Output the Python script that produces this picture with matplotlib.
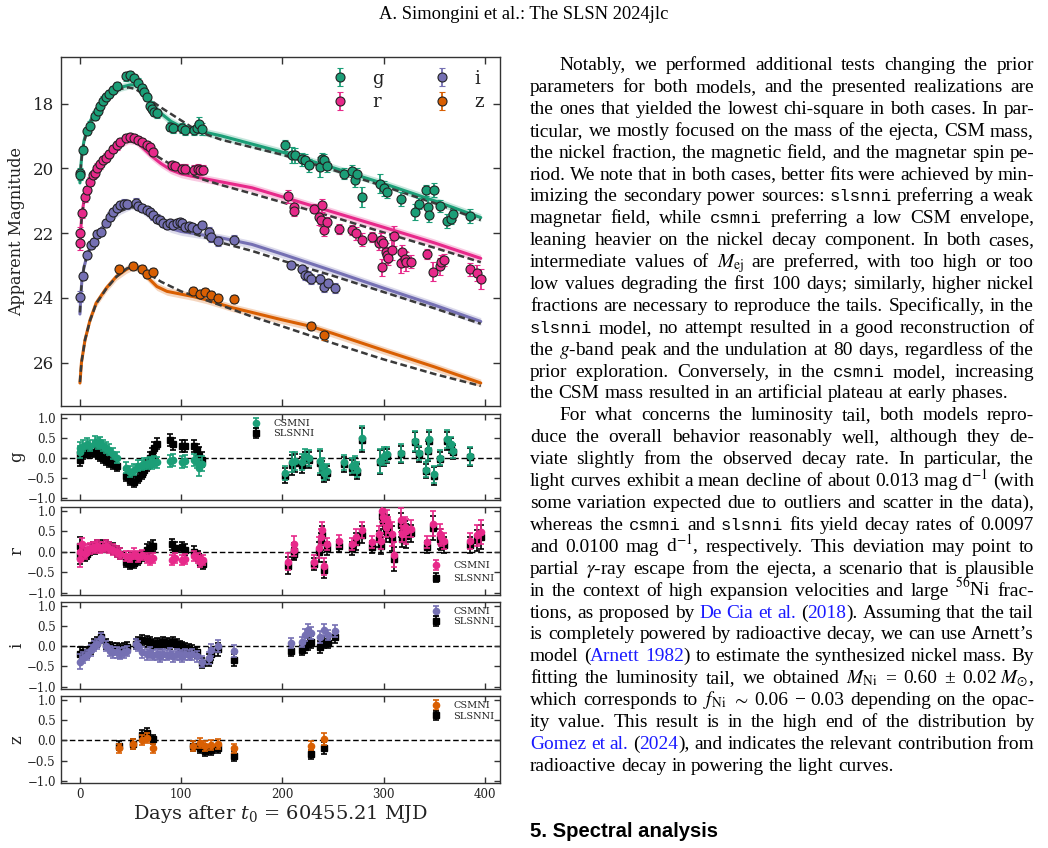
import re
import numpy as np
import matplotlib
matplotlib.use("Agg")
import matplotlib.pyplot as plt

# ---------------- data ----------------
BANDS = ["g", "r", "i", "z"]
COLORS = {"g": "#1b9e77", "r": "#e7298a", "i": "#7570b3", "z": "#d95f02"}

G_DAY = [0, 0, 3.3, 7.2, 9.9, 14.9, 17.6, 19.8,
         23.1, 25.7, 29.0, 33.0, 36.3, 45.5, 49.5, 53.5,
         57.0, 61.0, 63.4, 66.0, 69.3, 71.0, 73.3, 75.9,
         89.1, 92.4, 100.7, 104.0, 112.2, 115.5, 117.9, 120.5,
         203.0, 209.6, 212.9, 219.5, 222.8, 226.1, 237.6, 239.3,
         241.6, 244.2, 260.7, 269.0, 271.3, 273.9, 278.2, 296.0,
         300.3, 303.6, 316.8, 331.0, 335.0, 341.6, 344.0, 344.5,
         349.8, 355.4, 362.4, 366.3, 368.6, 385.4]
G_MAG = [20.14, 20.22, 19.43, 18.85, 18.68, 18.37, 18.22, 18.07,
         17.91, 17.80, 17.70, 17.58, 17.45, 17.16, 17.12, 17.21,
         17.35, 17.53, 17.65, 17.80, 18.06, 18.16, 18.25, 18.30,
         18.71, 18.75, 18.75, 18.81, 18.83, 18.75, 18.62, 18.78,
         19.29, 19.60, 19.60, 19.72, 19.75, 19.91, 19.96, 19.71,
         19.75, 19.94, 20.16, 20.09, 20.37, 20.16, 20.88, 20.47,
         20.62, 20.73, 20.94, 21.35, 21.09, 20.68, 21.19, 21.45,
         20.68, 21.16, 21.63, 21.55, 21.42, 21.48]
G_ERR = [0.15, 0.15, 0.13, 0.13, 0.13, 0.13, 0.13, 0.13,
         0.13, 0.13, 0.13, 0.13, 0.13, 0.13, 0.13, 0.13,
         0.13, 0.13, 0.13, 0.13, 0.13, 0.13, 0.13, 0.13,
         0.15, 0.15, 0.15, 0.15, 0.15, 0.15, 0.22, 0.18,
         0.18, 0.25, 0.22, 0.20, 0.18, 0.20, 0.30, 0.18,
         0.18, 0.18, 0.18, 0.18, 0.20, 0.18, 0.30, 0.30,
         0.22, 0.18, 0.22, 0.25, 0.18, 0.18, 0.25, 0.22,
         0.22, 0.18, 0.22, 0.18, 0.18, 0.22]
G_RES_CSM = [0.25, 0.15, 0.30, 0.35, 0.30, 0.40, 0.35, 0.38,
             0.30, 0.25, 0.20, 0.10, 0.00, -0.25, -0.35, -0.30,
             -0.20, -0.18, -0.15, -0.15, -0.12, -0.15, -0.10, -0.12,
             -0.08, -0.05, -0.12, -0.08, -0.05, -0.10, -0.25, -0.15,
             -0.38, -0.12, -0.08, -0.12, 0.04, 0.00, -0.08, -0.20,
             -0.38, -0.33, -0.12, -0.20, -0.17, -0.30, 0.50, -0.08,
             0.04, 0.08, 0.12, 0.42, 0.12, -0.30, 0.20, 0.46,
             -0.42, 0.00, 0.46, 0.33, 0.17, 0.04]
G_RES_SLS = [0.10, -0.05, 0.10, 0.15, 0.12, 0.15, 0.10, 0.05,
             0.00, -0.05, -0.10, -0.15, -0.20, -0.45, -0.55, -0.60,
             -0.50, -0.40, -0.30, -0.20, 0.00, 0.10, 0.25, 0.35,
             0.45, 0.35, 0.30, 0.30, 0.30, 0.20, 0.05, -0.05,
             -0.45, -0.18, -0.14, -0.18, -0.03, -0.06, -0.14, -0.26,
             -0.44, -0.39, -0.17, -0.25, -0.22, -0.35, 0.45, -0.12,
             0.00, 0.04, 0.08, 0.38, 0.08, -0.34, 0.16, 0.42,
             -0.46, -0.04, 0.42, 0.30, 0.14, 0.01]

R_DAY = [0, 0, 1.6, 4.9, 7.2, 9.9, 13.3, 14.9,
         17.3, 19.8, 23.1, 25.7, 29.0, 33.0, 36.3, 39.6,
         45.5, 49.5, 53.5, 57.0, 61.0, 66.0, 69.3, 72.6,
         90.8, 94.0, 100.7, 104.0, 112.2, 116.2, 118.8, 121.5,
         206.0, 211.2, 211.8, 231.0, 236.0, 238.3, 239.3, 241.6,
         244.2, 255.8, 269.0, 272.3, 278.9, 288.8, 295.4, 297.0,
         298.7, 299.6, 302.0, 303.6, 304.2, 308.0, 310.2, 316.8,
         318.4, 320.8, 321.8, 326.7, 343.2, 348.8, 355.4, 356.4,
         359.7, 385.4, 392.7, 396.0]
R_MAG = [22.01, 22.32, 21.39, 20.90, 20.67, 20.41, 20.21, 20.14,
         19.98, 19.88, 19.75, 19.67, 19.55, 19.40, 19.29, 19.19,
         19.07, 19.04, 19.06, 19.12, 19.19, 19.29, 19.35, 19.50,
         19.91, 19.94, 20.01, 20.01, 20.04, 20.01, 20.06, 20.04,
         20.86, 21.19, 21.31, 21.24, 21.49, 21.58, 21.14, 21.90,
         21.65, 21.88, 21.90, 22.00, 22.21, 22.11, 22.32, 22.21,
         23.06, 22.32, 22.57, 22.68, 22.78, 22.52, 22.09, 22.93,
         22.57, 22.81, 22.88, 22.88, 22.65, 23.19, 23.03, 22.88,
         22.83, 23.11, 23.24, 23.42]
R_ERR = [0.20, 0.20, 0.13, 0.13, 0.13, 0.13, 0.13, 0.13,
         0.13, 0.13, 0.13, 0.13, 0.13, 0.13, 0.13, 0.13,
         0.13, 0.13, 0.13, 0.13, 0.13, 0.13, 0.13, 0.13,
         0.13, 0.13, 0.13, 0.13, 0.13, 0.13, 0.13, 0.13,
         0.20, 0.20, 0.15, 0.15, 0.25, 0.20, 0.20, 0.20,
         0.15, 0.15, 0.15, 0.20, 0.20, 0.15, 0.20, 0.20,
         0.25, 0.20, 0.25, 0.25, 0.20, 0.30, 0.30, 0.30,
         0.20, 0.25, 0.30, 0.20, 0.15, 0.30, 0.25, 0.20,
         0.20, 0.20, 0.25, 0.30]
R_RES_CSM = [0.00, -0.18, 0.20, -0.05, 0.05, 0.08, 0.12, 0.10,
             0.15, 0.10, 0.12, 0.15, 0.10, 0.05, 0.00, -0.05,
             -0.10, -0.12, -0.05, -0.12, -0.08, -0.15, -0.20, -0.15,
             -0.20, -0.15, -0.20, -0.18, -0.10, -0.15, -0.25, -0.20,
             -0.24, 0.19, 0.05, -0.24, 0.10, 0.36, 0.53, -0.36,
             0.19, 0.27, 0.19, 0.36, 0.53, 0.23, 0.44, 0.27,
             0.99, 0.86, 0.61, 0.78, 0.65, 0.44, -0.07, 0.78,
             0.44, 0.61, 0.50, 0.57, 0.23, 0.69, 0.44, 0.35,
             0.27, 0.27, 0.40, 0.48]
R_RES_SLS = [0.15, -0.10, 0.05, -0.10, -0.05, 0.05, 0.10, 0.08,
             0.15, 0.12, 0.15, 0.15, 0.12, 0.08, 0.00, -0.05,
             -0.25, -0.30, -0.28, -0.20, -0.10, 0.05, 0.10, 0.15,
             0.18, 0.10, 0.12, 0.05, 0.00, -0.10, -0.25, -0.30,
             -0.34, 0.02, -0.05, -0.30, 0.00, 0.25, 0.42, -0.45,
             0.08, 0.15, 0.08, 0.25, 0.42, 0.12, 0.32, 0.15,
             0.88, 0.75, 0.50, 0.66, 0.54, 0.32, -0.18, 0.66,
             0.32, 0.50, 0.38, 0.45, 0.12, 0.58, 0.32, 0.24,
             0.16, 0.16, 0.28, 0.36]

I_DAY = [0, 3.3, 7.2, 10.6, 13.9, 16.5, 20.8, 25.7,
         29.7, 33.0, 36.3, 39.6, 43.6, 46.2, 55.4, 57.8,
         61.0, 66.0, 69.3, 72.6, 75.9, 79.2, 82.5, 85.8,
         89.1, 92.4, 95.7, 99.0, 100.7, 104.0, 107.3, 110.6,
         115.5, 120.5, 128.0, 129.3, 136.0, 152.0,
         209.0, 219.5, 222.8, 225.5, 227.9, 237.6, 241.0, 244.8,
         252.4]
I_MAG = [23.96, 23.32, 22.68, 22.37, 22.27, 22.03, 21.96, 21.68,
         21.49, 21.34, 21.23, 21.13, 21.09, 21.11, 21.06, 21.16,
         21.22, 21.29, 21.34, 21.45, 21.55, 21.60, 21.68, 21.75,
         21.70, 21.75, 21.70, 21.65, 21.70, 21.81, 21.79, 21.81,
         21.86, 21.75, 21.96, 22.11, 22.24, 22.20,
         23.00, 23.12, 23.29, 23.32, 23.42, 23.42, 23.67, 23.53,
         23.70]
I_ERR = [0.18, 0.13, 0.13, 0.13, 0.13, 0.13, 0.13, 0.13,
         0.13, 0.13, 0.13, 0.13, 0.13, 0.13, 0.13, 0.13,
         0.13, 0.13, 0.13, 0.13, 0.13, 0.13, 0.13, 0.13,
         0.13, 0.13, 0.13, 0.13, 0.13, 0.13, 0.13, 0.13,
         0.13, 0.13, 0.15, 0.15, 0.15, 0.15,
         0.12, 0.12, 0.15, 0.15, 0.15, 0.15, 0.15, 0.12,
         0.15]
I_RES_CSM = [-0.38, -0.28, -0.22, -0.10, 0.00, 0.05, 0.20, 0.00,
             -0.12, -0.15, -0.15, -0.18, -0.15, -0.12, 0.05, 0.00,
             -0.15, -0.20, -0.15, -0.22, -0.20, -0.25, -0.20, -0.22,
             -0.18, -0.25, -0.20, -0.22, -0.25, -0.20, -0.22, -0.20,
             -0.25, -0.38, -0.30, -0.10, 0.00, -0.12,
             0.08, 0.10, 0.28, 0.40, 0.32, 0.23, 0.40, 0.28,
             0.38]
I_RES_SLS = [-0.20, -0.15, -0.15, -0.05, 0.05, 0.10, 0.22, 0.05,
             -0.02, -0.05, -0.05, -0.08, -0.05, -0.02, 0.05, 0.10,
             0.15, 0.12, 0.10, 0.05, 0.08, 0.05, 0.10, 0.08,
             0.05, 0.10, 0.05, 0.00, -0.02, -0.05, -0.08, -0.10,
             -0.15, -0.42, -0.35, -0.20, -0.08, -0.33,
             -0.12, -0.10, -0.02, 0.05, 0.10, -0.02, 0.10, 0.07,
             0.23]

Z_DAY = [38.8, 52.5, 61.0, 66.0, 72.6, 111.5, 118.2, 123.8, 129.4, 136.3, 151.9, 227.9, 241.0]
Z_MAG = [23.12, 23.02, 23.12, 23.27, 23.21, 23.79, 23.89, 23.83, 23.91, 24.01, 24.04, 24.88, 25.14]
Z_ERR = [0.12, 0.12, 0.12, 0.12, 0.12, 0.12, 0.12, 0.12, 0.12, 0.12, 0.12, 0.12, 0.15]
Z_RES_CSM = [-0.20, -0.10, 0.00, 0.05, -0.20, -0.14, -0.07, -0.15, -0.11, -0.10, -0.20, -0.13, 0.03]
Z_RES_SLS = [-0.13, -0.10, 0.13, 0.19, 0.02, -0.15, -0.20, -0.26, -0.24, -0.20, -0.39, -0.35, -0.20]

# model curves (CSMNI solid, SLSNNI dashed)
G_CSM_DAY = [0, 1, 2, 4, 7, 10, 15, 20, 25, 30, 40, 50, 56, 60, 65, 70, 75, 80, 90, 100,
             110, 120, 140, 170, 200, 250, 300, 350, 396]
G_CSM_MAG = [20.45, 19.9, 19.55, 19.15, 18.8, 18.55, 18.25, 18.0, 17.85, 17.7, 17.5, 17.42,
             17.43, 17.5, 17.7, 17.95, 18.15, 18.3, 18.55, 18.72, 18.8, 18.86, 19.0, 19.25,
             19.5, 19.98, 20.47, 21.0, 21.52]
G_SLS_DAY = [0, 1, 2, 4, 7, 10, 15, 20, 30, 40, 48, 55, 62, 70, 80, 90, 100, 110, 120, 140,
             170, 200, 250, 300, 350, 396]
G_SLS_MAG = [20.4, 19.9, 19.6, 19.2, 18.85, 18.6, 18.3, 18.05, 17.72, 17.55, 17.5, 17.55,
             17.7, 17.9, 18.12, 18.32, 18.52, 18.72, 18.9, 19.12, 19.35, 19.58, 20.05, 20.55,
             21.07, 21.6]
R_CSM_DAY = [0, 1, 2, 4, 7, 10, 15, 20, 25, 30, 40, 48, 55, 60, 65, 70, 80, 90, 100, 110,
             120, 140, 170, 200, 250, 300, 350, 396]
R_CSM_MAG = [22.4, 21.8, 21.4, 21.0, 20.65, 20.4, 20.1, 19.85, 19.65, 19.5, 19.25, 19.12,
             19.15, 19.3, 19.45, 19.6, 19.85, 20.05, 20.17, 20.24, 20.3, 20.42, 20.6, 20.88,
             21.35, 21.82, 22.3, 22.78]
R_SLS_DAY = [0, 1, 2, 4, 7, 10, 15, 20, 30, 40, 48, 55, 62, 70, 80, 90, 100, 110, 120, 140,
             170, 200, 250, 300, 350, 396]
R_SLS_MAG = [22.35, 21.8, 21.45, 21.05, 20.7, 20.45, 20.12, 19.88, 19.5, 19.25, 19.15, 19.2,
             19.32, 19.5, 19.7, 19.88, 20.05, 20.2, 20.33, 20.52, 20.78, 21.05, 21.5, 21.98,
             22.45, 22.9]
I_CSM_DAY = [0, 1, 2, 4, 7, 10, 15, 20, 30, 40, 50, 55, 60, 70, 80, 90, 100, 110, 120, 140,
             170, 200, 250, 300, 350, 396]
I_CSM_MAG = [24.5, 23.85, 23.45, 23.05, 22.7, 22.45, 22.15, 21.9, 21.55, 21.3, 21.15, 21.16,
             21.25, 21.48, 21.7, 21.86, 21.95, 22.0, 22.05, 22.15, 22.35, 22.65, 23.17, 23.7,
             24.22, 24.73]
I_SLS_DAY = [0, 1, 2, 4, 7, 10, 15, 20, 30, 40, 50, 58, 65, 75, 90, 100, 120, 140, 170, 200,
             250, 300, 350, 396]
I_SLS_MAG = [24.45, 23.85, 23.45, 23.05, 22.7, 22.45, 22.15, 21.9, 21.55, 21.32, 21.2, 21.22,
             21.32, 21.5, 21.75, 21.88, 22.1, 22.3, 22.55, 22.85, 23.32, 23.82, 24.32, 24.8]
Z_CSM_DAY = [0, 1.5, 5, 10, 16, 26, 36, 46, 53, 59, 66, 76, 86, 99, 112, 125, 150, 170, 200,
             228, 250, 300, 350, 396]
Z_CSM_MAG = [26.63, 26.0, 25.3, 24.68, 24.16, 23.7, 23.34, 23.12, 23.02, 23.09, 23.34, 23.65,
             23.8, 23.88, 23.96, 24.06, 24.3, 24.45, 24.68, 24.88, 25.1, 25.62, 26.13, 26.63]
Z_SLS_DAY = [0, 1.5, 5, 10, 16, 26, 36, 46, 53, 60, 70, 80, 100, 120, 150, 170, 200, 250, 300,
             350, 396]
Z_SLS_MAG = [26.6, 26.0, 25.3, 24.7, 24.18, 23.72, 23.35, 23.1, 23.0, 23.08, 23.3, 23.5, 23.8,
             24.02, 24.35, 24.58, 24.88, 25.4, 25.9, 26.35, 26.72]
BAND_HALF_WIDTH = 0.12

DATA = {
    "g": (G_DAY, G_MAG, G_ERR, G_RES_CSM, G_RES_SLS, G_CSM_DAY, G_CSM_MAG, G_SLS_DAY, G_SLS_MAG),
    "r": (R_DAY, R_MAG, R_ERR, R_RES_CSM, R_RES_SLS, R_CSM_DAY, R_CSM_MAG, R_SLS_DAY, R_SLS_MAG),
    "i": (I_DAY, I_MAG, I_ERR, I_RES_CSM, I_RES_SLS, I_CSM_DAY, I_CSM_MAG, I_SLS_DAY, I_SLS_MAG),
    "z": (Z_DAY, Z_MAG, Z_ERR, Z_RES_CSM, Z_RES_SLS, Z_CSM_DAY, Z_CSM_MAG, Z_SLS_DAY, Z_SLS_MAG),
}

X_TICKS = [0, 100, 200, 300, 400]
MAIN_Y_TICKS = [18, 20, 22, 24, 26]
RES_Y_TICKS = [-1.0, -0.5, 0.0, 0.5, 1.0]
XLABEL = r"Days after $t_0$ = 60455.21 MJD"
YLABEL = "Apparent Magnitude"
HEADER = "A. Simongini et al.: The SLSN 2024jlc"
SECTION = "5. Spectral analysis"

BODY_LINES = [
    ("Notably, we performed additional tests changing the prior", True, True),
    ("parameters for both models, and the presented realizations are", True, False),
    ("the ones that yielded the lowest chi-square in both cases. In par-", True, False),
    ("ticular, we mostly focused on the mass of the ejecta, CSM mass,", True, False),
    ("the nickel fraction, the magnetic field, and the magnetar spin pe-", True, False),
    ("riod. We note that in both cases, better fits were achieved by min-", True, False),
    ("imizing the secondary power sources: {t:slsnni} preferring a weak", True, False),
    ("magnetar field, while {t:csmni} preferring a low CSM envelope,", True, False),
    ("leaning heavier on the nickel decay component. In both cases,", True, False),
    (r"intermediate values of $M_{\mathrm{ej}}$ are preferred, with too high or too", True, False),
    ("low values degrading the first 100 days; similarly, higher nickel", True, False),
    ("fractions are necessary to reproduce the tails. Specifically, in the", True, False),
    ("{t:slsnni} model, no attempt resulted in a good reconstruction of", True, False),
    ("the $g$-band peak and the undulation at 80 days, regardless of the", True, False),
    ("prior exploration. Conversely, in the {t:csmni} model, increasing", True, False),
    ("the CSM mass resulted in an artificial plateau at early phases.", False, False),
    ("For what concerns the luminosity tail, both models repro-", True, True),
    ("duce the overall behavior reasonably well, although they de-", True, False),
    ("viate slightly from the observed decay rate. In particular, the", True, False),
    (r"light curves exhibit a mean decline of about 0.013~mag~d$^{-1}$ (with", True, False),
    ("some variation expected due to outliers and scatter in the data),", True, False),
    ("whereas the {t:csmni} and {t:slsnni} fits yield decay rates of 0.0097", True, False),
    (r"and 0.0100 mag d$^{-1}$, respectively. This deviation may point to", True, False),
    (r"partial $\gamma$-ray escape from the ejecta, a scenario that is plausible", True, False),
    (r"in the context of high expansion velocities and large $^{56}$Ni frac-", True, False),
    ("tions, as proposed by {b:De} {b:Cia} {b:et} {b:al.} ({b:2018}). Assuming that the tail", True, False),
    ("is completely powered by radioactive decay, we can use Arnett\u2019s", True, False),
    ("model ({b:Arnett} {b:1982}) to estimate the synthesized nickel mass. By", True, False),
    (r"fitting the luminosity tail, we obtained $M_{\mathrm{Ni}}$ = 0.60 ± 0.02~$M_{\odot}$,", True, False),
    (r"which corresponds to $f_{\mathrm{Ni}}$ $\sim$ 0.06 − 0.03 depending on the opac-", True, False),
    ("ity value. This result is in the high end of the distribution by", True, False),
    ("{b:Gomez} {b:et} {b:al.} ({b:2024}), and indicates the relevant contribution from", True, False),
    ("radioactive decay in powering the light curves.", False, False),
]

# ---------------- figure ----------------
plt.rcParams["font.family"] = ["DejaVu Serif"]
plt.rcParams["mathtext.fontset"] = "dejavuserif"
W, H = 1048, 848
fig = plt.figure(figsize=(W / 100, H / 100), dpi=100)
fig.patch.set_facecolor("white")


def box(l, t, r, b):
    return [l / W, 1 - b / H, (r - l) / W, (b - t) / H]


AX_L, AX_R = 60.7, 500.0
ax_main = fig.add_axes(box(AX_L, 57.3, AX_R, 406.0))
res_boxes = [(414.0, 500.0), (507.3, 595.0), (602.3, 689.0), (696.0, 783.3)]
res_axes = [fig.add_axes(box(AX_L, t, AX_R, b)) for t, b in res_boxes]

SPINE = "#333333"
TXT = "#222222"

handles = []
for b in BANDS:
    day, mag, err, rc, rs, cd, cm, sd, sm = DATA[b]
    c = COLORS[b]
    cm_a = np.array(cm)
    ax_main.fill_between(cd, cm_a - BAND_HALF_WIDTH, cm_a + BAND_HALF_WIDTH,
                         color=c, alpha=0.25, lw=0, zorder=1)
    ax_main.plot(cd, cm, color=c, lw=2.2, zorder=2, solid_capstyle="round")
    ax_main.plot(sd, sm, color="#3a3a3a", lw=1.8, dashes=(2.7, 1.4), zorder=3)
    eb = ax_main.errorbar(day, mag, yerr=err, fmt="o", ms=6.5, mfc=c, mec="#222222",
                          mew=0.8, ecolor=c, elinewidth=1.3, capsize=2, capthick=1.3,
                          zorder=4, label=b)
    handles.append(eb)

ax_main.set_xlim(-19, 415)
ax_main.set_ylim(27.34, 16.57)
ax_main.set_xticks(X_TICKS)
ax_main.set_yticks(MAIN_Y_TICKS)
ax_main.tick_params(direction="in", top=True, right=True, length=5, width=1,
                    colors=SPINE, labelcolor=TXT, labelsize=12, pad=5,
                    labelbottom=False)
ax_main.set_ylabel(YLABEL, color=TXT, va="center", fontsize=11.5)
ax_main.yaxis.set_label_coords((17 - AX_L) / (AX_R - AX_L), 0.5)

# main legend
leg = ax_main.legend(handles=handles, labels=BANDS, ncol=2, frameon=False, fontsize=13,
                     handlelength=1.0, handletextpad=1.3, columnspacing=2.7,
                     labelspacing=0.33, borderpad=0, borderaxespad=0, loc="upper left",
                     bbox_to_anchor=((331 - AX_L) / (AX_R - AX_L), (406 - 69.5) / 348.7))
for t in leg.get_texts():
    t.set_color(TXT)

legend_pos = {
    "g": ((252.1 - AX_L) / (AX_R - AX_L), 0.938, 0.12),
    "r": ((432.1 - AX_L) / (AX_R - AX_L), 0.384, 0.37),
    "i": ((432.1 - AX_L) / (AX_R - AX_L), 0.942, 0.10),
    "z": ((432.1 - AX_L) / (AX_R - AX_L), 0.939, 0.16),
}

for ax, b in zip(res_axes, BANDS):
    day, mag, err, rc, rs, cd, cm, sd, sm = DATA[b]
    c = COLORS[b]
    ax.axhline(0, color="k", lw=1.0, dashes=(4, 2), zorder=1)
    hs = ax.errorbar(day, rs, yerr=err, fmt="s", ms=4.3, color="k", ecolor="k",
                     elinewidth=1.2, capsize=2, capthick=1.2, zorder=2, label="SLSNNI")
    hc = ax.errorbar(day, rc, yerr=err, fmt="o", ms=4.5, color=c, ecolor=c,
                     elinewidth=1.2, capsize=2, capthick=1.2, zorder=3, label="CSMNI")
    ax.set_xlim(-19, 415)
    ax.set_ylim(-1.06, 1.09)
    ax.set_xticks(X_TICKS)
    ax.set_yticks(RES_Y_TICKS)
    ax.tick_params(direction="in", top=True, right=True, length=4, width=1,
                   colors=SPINE, labelcolor=TXT, labelsize=8.5, pad=3.5,
                   labelbottom=(b == "z"))
    ax.set_ylabel(b, fontsize=12, color=TXT, va="center")
    ax.yaxis.set_label_coords((16.5 - AX_L) / (AX_R - AX_L), 0.5)
    fx, fy, ls = legend_pos[b]
    lg = ax.legend(handles=[hc, hs], labels=["CSMNI", "SLSNNI"], frameon=False, fontsize=7,
                   handlelength=0.8, handletextpad=1.35, labelspacing=ls, borderpad=0,
                   borderaxespad=0, loc="upper left", bbox_to_anchor=(fx, fy))
    for t in lg.get_texts():
        t.set_color(TXT)

for ax in [ax_main] + res_axes:
    for s in ax.spines.values():
        s.set_color(SPINE)
        s.set_linewidth(1.0)

renderer = fig.canvas.get_renderer()


def fit_size(s, target, **kw):
    t = fig.text(0, 0, s, fontsize=10, **kw)
    w = t.get_window_extent(renderer).width
    t.remove()
    return 10.0 * target / w


# x label
xl_size = fit_size(XLABEL, 295, family="DejaVu Serif", math_fontfamily="dejavuserif")
res_axes[-1].set_xlabel(XLABEL, fontsize=xl_size, color=TXT, va="baseline")
res_axes[-1].xaxis.set_label_coords(0.5, (783.3 - 819) / (783.3 - 696.0))

# ---------------- page text ----------------
BODY_FONT = "Liberation Serif"
MONO_FONT = "Liberation Mono"
LINK = "#1a1aff"
XL, XR = 530.0, 1034.0
INDENT = 30.0
BASE0, STEP = 70.0, 21.9

s1 = fit_size("the CSM mass resulted in an artificial plateau at early phases.", 463,
              family=BODY_FONT)
s2 = fit_size("radioactive decay in powering the light curves.", 375, family=BODY_FONT)
BODY = 0.5 * (s1 + s2)

SEG_RE = re.compile(r"\{([bt]):([^}]*)\}")


def parse(tok):
    segs, pos = [], 0
    for m in SEG_RE.finditer(tok):
        if m.start() > pos:
            segs.append(("n", tok[pos:m.start()]))
        segs.append((m.group(1), m.group(2)))
        pos = m.end()
    if pos < len(tok):
        segs.append(("n", tok[pos:]))
    return [(k, s.replace("~", " ")) for k, s in segs]


def seg_text(kind, s):
    kw = dict(fontsize=BODY, family=BODY_FONT, color="black", math_fontfamily="stix")
    if kind == "t":
        kw.update(family=MONO_FONT, fontsize=BODY * 0.9)
    elif kind == "b":
        kw.update(color=LINK)
    t = fig.text(0, 0, s, va="baseline", ha="left", **kw)
    return t, t.get_window_extent(renderer).width


space_px = 0.25 * BODY * 100 / 72
for k, (line, justify, indent) in enumerate(BODY_LINES):
    y = BASE0 + k * STEP
    x0 = XL + (INDENT if indent else 0.0)
    items = []
    for tok in line.split(" "):
        items.append([seg_text(kd, s) for kd, s in parse(tok)])
    widths = [sum(w for _, w in segs) for segs in items]
    if justify and len(items) > 1:
        gap = (XR - x0 - sum(widths)) / (len(items) - 1)
    else:
        gap = space_px
    x = x0
    for segs, wt in zip(items, widths):
        xx = x
        for t, w in segs:
            t.set_position((xx / W, 1 - y / H))
            xx += w
        x += wt + gap

hs_ = fit_size(HEADER, 288, family=BODY_FONT)
fig.text(524 / W, 1 - 19 / H, HEADER, fontsize=hs_, family=BODY_FONT, ha="center",
         va="baseline", color="black")
ss_ = fit_size(SECTION, 188, family="Liberation Sans", weight="bold")
fig.text(XL / W, 1 - 837 / H, SECTION, fontsize=ss_, family="Liberation Sans",
         weight="bold", ha="left", va="baseline", color="black")

fig.savefig("out.png", dpi=100, facecolor="white")
